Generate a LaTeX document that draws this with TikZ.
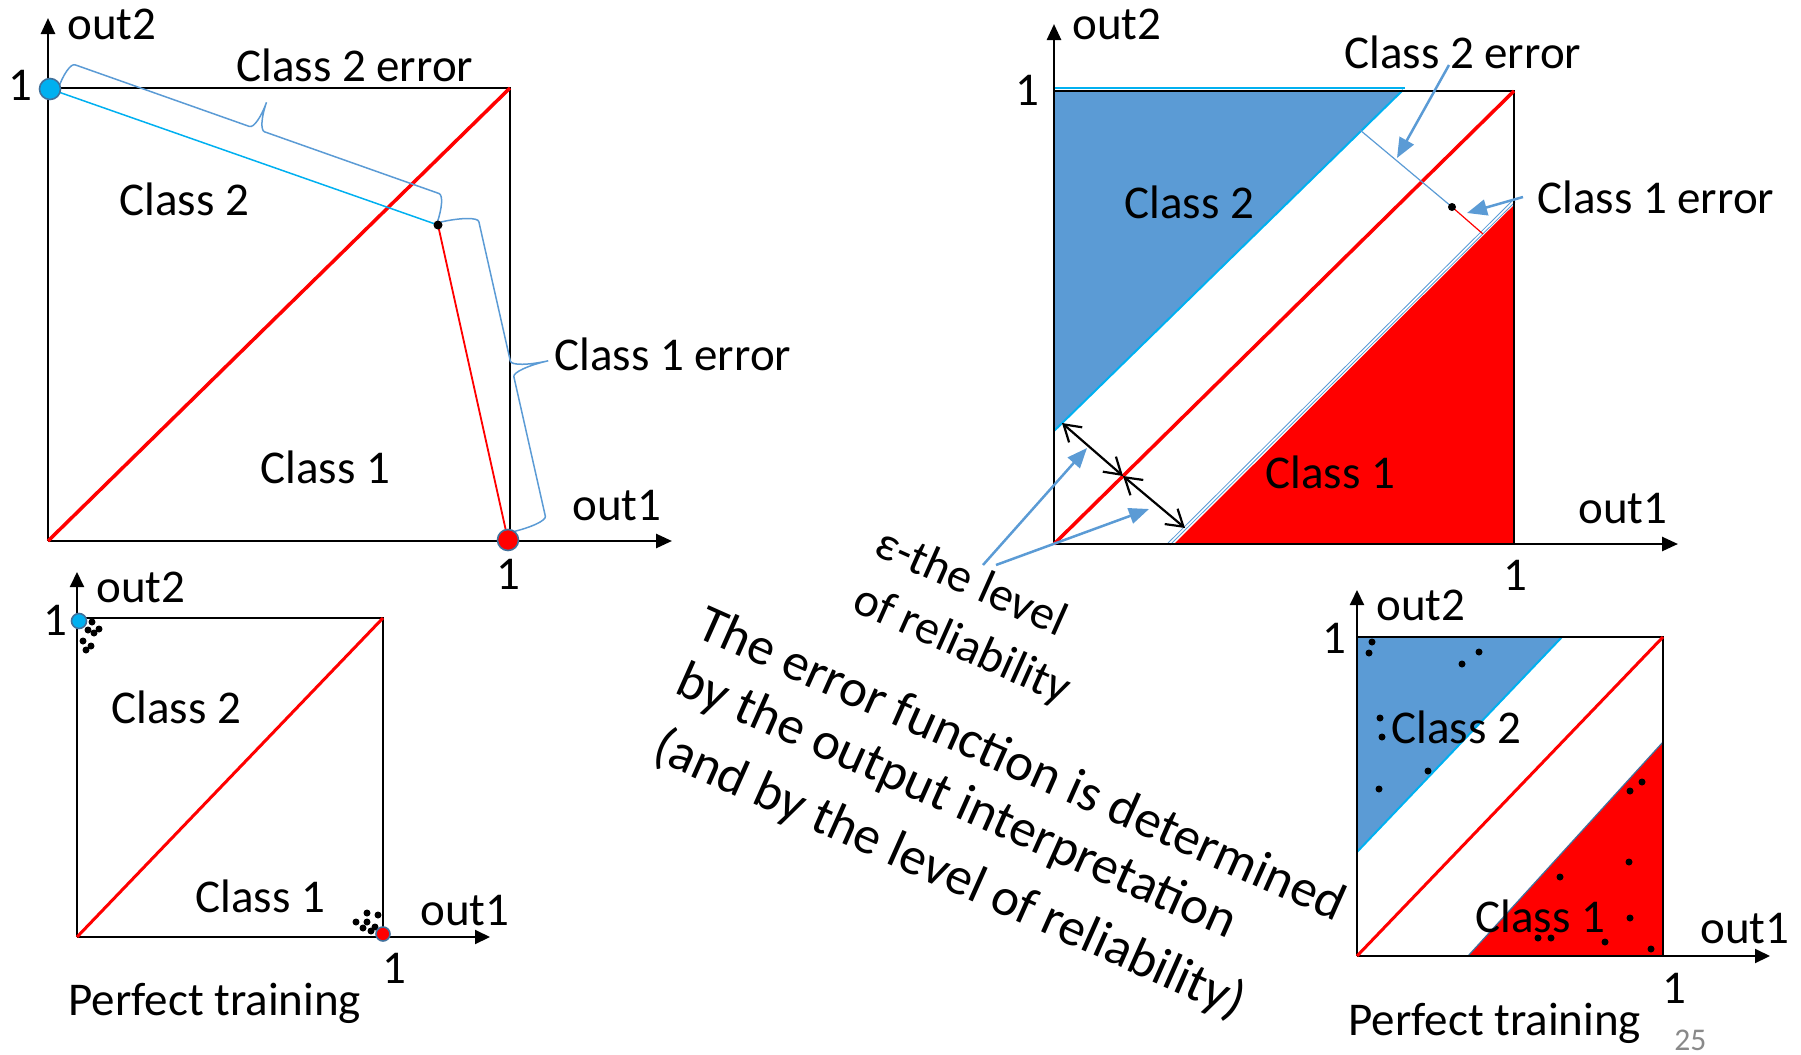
\documentclass[tikz,border=0pt]{standalone}
\usepackage{fontspec}
\setmainfont{Carlito}
\usetikzlibrary{arrows.meta,calc}
\definecolor{cblue}{HTML}{5B9BD5}
\definecolor{ccyan}{HTML}{00B0F0}
\definecolor{cred}{HTML}{FF0000}
\definecolor{cdot}{HTML}{41719C}
\definecolor{cgray}{HTML}{898989}
% custom curly brace in a local frame: #1 length, #2 half amplitude, #3 hook size
\newcommand{\mybrace}[3]{%
  \draw[brcline] (0,0) .. controls (0,{0.552*#2}) and ({0.448*#3},#2) .. (#3,#2)
    -- ({#1/2-#3},#2) .. controls ({#1/2-0.448*#3},#2) and ({#1/2},{1.448*#2}) .. ({#1/2},{2*#2})
    .. controls ({#1/2},{1.448*#2}) and ({#1/2+0.448*#3},#2) .. ({#1/2+#3},#2)
    -- ({#1-#3},#2) .. controls ({#1-0.448*#3},#2) and (#1,{0.552*#2}) .. (#1,0);}
\begin{document}
\begin{tikzpicture}[x=0.5pt,y=-0.5pt,
  lbl/.style={inner sep=0pt,anchor=base west,font=\fontsize{23.5}{28}\selectfont},
  num/.style={inner sep=0pt,anchor=base,font=\fontsize{23.5}{28}\selectfont},
  rot/.style={inner sep=0pt,anchor=base west,rotate=-24,font=\fontsize{26.5}{32}\selectfont},
  rotsm/.style={inner sep=0pt,anchor=base west,rotate=-24,font=\fontsize{24}{29}\selectfont},
  axisbig/.style={line width=1.3pt,-{Triangle[length=8pt,width=7pt]}},
  edgebig/.style={line width=1.3pt},
  axissm/.style={line width=1pt,-{Triangle[length=7.5pt,width=7pt]}},
  edgesm/.style={line width=1pt},
  diagbig/.style={cred,line width=1.75pt},
  diagsm/.style={cred,line width=1.5pt},
  bdot/.style={circle,fill=ccyan,draw=cdot,line width=0.8pt,inner sep=0pt,minimum size=#1},
  rdot/.style={circle,fill=cred,draw=cdot,line width=0.8pt,inner sep=0pt,minimum size=#1},
  kdot/.style={circle,fill=black,inner sep=0pt,minimum size=3.5pt},
  ann/.style={cblue,line width=1.25pt,-{Triangle[length=10pt,width=8pt]}},
  dblarrow/.style={line width=1.1pt,{Straight Barb[length=8pt,width=10pt]}-{Straight Barb[length=8pt,width=10pt]}},
  brcline/.style={cblue,line width=0.75pt}
]
\useasboundingbox (0,0) rectangle (1801,1055);

%%% Panel 1 (top-left)
\coordinate (O1) at (48,541);
\coordinate (X1) at (672,541);
\coordinate (Y1) at (48,18);
\coordinate (L1) at (48,88);
\coordinate (T1) at (510,88);
\coordinate (R1) at (510,541);
\coordinate (B1) at (50,89);
\coordinate (RD1) at (508,540);
\coordinate (E1) at (438,225);
\draw[edgebig] (L1) -- (T1) -- (R1);
\draw[axisbig] (O1) -- (X1);
\draw[axisbig] (O1) -- (Y1);
\draw[diagbig] (O1) -- (T1);
\draw[ccyan,line width=0.75pt] (B1) -- (E1);
\draw[cred,line width=0.9pt] (E1) -- (RD1);
\coordinate (BA1) at (58,89);
\coordinate (BC1) at (441,222);
\begin{scope}[shift={(BA1)},x={(0.4714pt,-0.1667pt)},y={(0.1667pt,0.4714pt)}]
  \mybrace{402}{28.5}{8}
\end{scope}
\begin{scope}[shift={(BC1)},x={(0.1101pt,-0.4877pt)},y={(0.4877pt,0.1101pt)}]
  \mybrace{318}{37}{8}
\end{scope}
\node[bdot=10.5pt] (bd1) at (B1) {};
\node[rdot=10.5pt] (rd1) at (RD1) {};
\node[kdot,minimum size=4.5pt] (kd1) at (E1) {};
\node[lbl] (p1out2) at (67,39) {out2};
\node[num] (p1one) at (20,100) {1};
\node[lbl] (p1c2e) at (236,81) {Class 2 error};
\node[lbl] (p1c2) at (119,215) {Class 2};
\node[lbl] (p1c1) at (260,483) {Class 1};
\node[lbl] (p1c1e) at (554,370) {Class 1 error};
\node[lbl] (p1out1) at (572,520) {out1};
\node[num] (p1onex) at (508,589) {1};

%%% Panel 2 (bottom-left)
\coordinate (O2) at (77,937);
\coordinate (X2) at (490,937);
\coordinate (Y2) at (77,572);
\coordinate (L2) at (77,618);
\coordinate (T2) at (383,618);
\coordinate (R2) at (383,937);
\draw[edgesm] (L2) -- (T2) -- (R2);
\draw[axissm] (O2) -- (X2);
\draw[axissm] (O2) -- (Y2);
\draw[diagsm] (O2) -- (T2);
\foreach \p [count=\i] in {(92,622),(99,629),(88,630),(94,633),(83,641),(91,646),(86,650),
  (367,913),(378,915),(356,922),(367,922),(363,928),(375,927),(371,931)}
  \node[kdot] (p2d\i) at \p {};
\node[bdot=7.5pt] (bd2) at (79,621) {};
\node[rdot=7pt] (rd2) at (383,934) {};
\node[lbl] (p2out2) at (96,602) {out2};
\node[num] (p2one) at (55,635) {1};
\node[lbl] (p2c2) at (111,723) {Class 2};
\node[lbl] (p2c1) at (195,912) {Class 1};
\node[lbl] (p2out1) at (420,925) {out1};
\node[num] (p2onex) at (394,983) {1};
\node[lbl] (p2pt) at (68,1015) {Perfect training};

%%% Panel 3 (top-right)
\coordinate (O3) at (1054,544);
\coordinate (X3) at (1678,544);
\coordinate (Y3) at (1054,24);
\coordinate (L3) at (1054,91);
\coordinate (T3) at (1514,91);
\coordinate (R3) at (1514,544);
\coordinate (BT3) at (1403,90);
\coordinate (BL3) at (1054,431);
\coordinate (RB3) at (1174,544);
\coordinate (RT3) at (1514,205);
\fill[cblue] (1054,90) -- (BT3) -- (BL3) -- cycle;
\fill[cred] (RB3) -- (RT3) -- (R3) -- cycle;
\draw[ccyan,line width=1pt] (BT3) -- (BL3);
\draw[cblue,line width=0.5pt,double=white,double distance=0.8pt] (1169,544) -- (1514,201);
\draw[edgebig] (L3) -- (T3) -- (R3);
\draw[ccyan,line width=1.3pt] (1054,88) -- (1405,88);
\draw[axisbig] (O3) -- (X3);
\draw[axisbig] (O3) -- (Y3);
\draw[diagbig] (O3) -- (T3);
\coordinate (EA3) at (1360,130);
\coordinate (E3) at (1452,207);
\coordinate (EB3) at (1483,234);
\draw[cblue,line width=0.6pt] (EA3) -- (E3);
\draw[cred,line width=0.6pt] (E3) -- (EB3);
\node[kdot,minimum size=4pt] (kd3) at (E3) {};
\coordinate (DA3) at (1062,423);
\coordinate (DP3) at (1123,476);
\coordinate (DB3) at (1185,528);
\draw[dblarrow] (DA3) -- (DP3);
\draw[dblarrow] (DP3) -- (DB3);
\coordinate (S1) at (983,565);
\coordinate (S2) at (996,565);
\coordinate (H1) at (1087,448);
\coordinate (H2) at (1149,509);
\draw[ann] (S1) -- (H1);
\draw[ann] (S2) -- (H2);
\coordinate (C2S) at (1449,65);
\coordinate (C2H) at (1397,158);
\draw[ann] (C2S) -- (C2H);
\coordinate (C1S) at (1523,197);
\coordinate (C1H) at (1467,213);
\draw[ann] (C1S) -- (C1H);
\node[lbl] (p3out2) at (1072,39) {out2};
\node[num] (p3one) at (1027,105) {1};
\node[lbl] (p3c2e) at (1344,68) {Class 2 error};
\node[lbl] (p3c2) at (1124,218) {Class 2};
\node[lbl] (p3c1e) at (1537,213) {Class 1 error};
\node[lbl] (p3c1) at (1265,488) {Class 1};
\node[lbl] (p3out1) at (1578,523) {out1};
\node[num] (p3onex) at (1515,590) {1};

%%% Rotated texts
\node[rotsm] (eps1) at (872,554) {ε-the level};
\node[rotsm] (eps2) at (850,610) {of reliability};
\node[rot] (m1) at (694,636) {The error function is determined};
\node[rot] (m2) at (673,692) {by the output interpretation};
\node[rot] (m3) at (650,758) {(and by the level of reliability)};

%%% Panel 4 (bottom-right)
\coordinate (O4) at (1357,956);
\coordinate (X4) at (1770,956);
\coordinate (Y4) at (1357,590);
\coordinate (L4) at (1357,637);
\coordinate (T4) at (1663,637);
\coordinate (R4) at (1663,956);
\coordinate (BT4) at (1562,637);
\coordinate (BL4) at (1357,852);
\coordinate (RB4) at (1468,956);
\coordinate (RT4) at (1663,742);
\fill[cblue] (L4) -- (BT4) -- (BL4) -- cycle;
\draw[ccyan,line width=1pt] (BT4) -- (BL4);
\filldraw[fill=cred,draw=cdot,line width=0.6pt] (RB4) -- (RT4) -- (R4) -- cycle;
\draw[edgesm] (L4) -- (T4) -- (R4);
\draw[axissm] (O4) -- (X4);
\draw[axissm] (O4) -- (Y4);
\draw[diagsm] (O4) -- (T4);
\foreach \p [count=\i] in {(1372,642),(1369,653),(1462,664),(1479,652),(1380,718),(1382,737),
  (1428,771),(1379,789),(1642,782),(1630,791),(1629,862),(1560,877),(1630,918),
  (1538,938),(1551,938),(1605,942),(1651,949)}
  \node[kdot] (p4d\i) at \p {};
\node[lbl] (p4out2) at (1376,620) {out2};
\node[num] (p4one) at (1334,653) {1};
\node[lbl] (p4c2) at (1391,743) {Class 2};
\node[lbl] (p4c1) at (1475,932) {Class 1};
\node[lbl] (p4out1) at (1700,943) {out1};
\node[num] (p4onex) at (1674,1003) {1};
\node[lbl] (p4pt) at (1348,1035) {Perfect training};
\node[inner sep=0pt,anchor=base west,font=\fontsize{15.8}{19}\selectfont,text=cgray] (pg) at (1674,1050) {25};
\end{tikzpicture}
\end{document}
